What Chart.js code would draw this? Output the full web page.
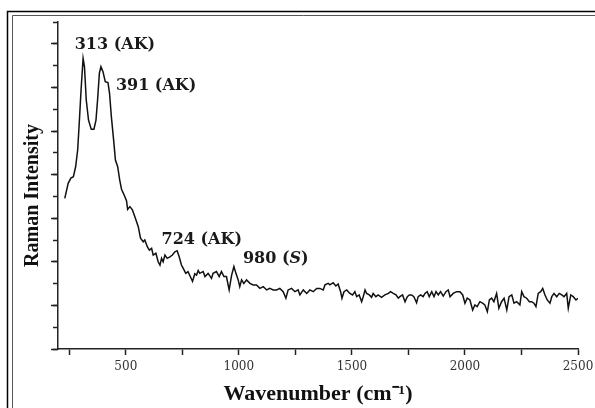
<!DOCTYPE html>
<html><head><meta charset="utf-8">
<script src="https://cdn.jsdelivr.net/npm/chart.js@4.4.0/dist/chart.umd.min.js"></script>
<style>html,body{margin:0;padding:0;background:#fff;} canvas{display:block;}</style>
</head><body>
<canvas id="c" width="595" height="408"></canvas>
<script>
// Wavenumber (cm^-1)
const wavenumber = [230,245,257,268,278,287,294,302,311,317,325,335,347,359,368,375,383,390,399,409,421,428,436,446,454,464,473,481,493,503,508,518,529,540,555,565,577,584,595,604,614,621,633,643,651,658,665,673,683,695,706,717,727,736,746,754,765,775,786,795,805,813,820,827,842,850,864,879,886,901,913,923,934,945,957,968,978,987,997,1004,1012,1022,1034,1049,1063,1078,1093,1108,1123,1137,1152,1167,1181,1196,1208,1218,1233,1248,1262,1270,1285,1300,1314,1329,1344,1358,1373,1381,1395,1403,1417,1429,1439,1450,1456,1465,1477,1491,1503,1513,1521,1532,1543,1550,1558,1565,1577,1587,1594,1606,1616,1631,1646,1661,1671,1683,1695,1705,1712,1724,1735,1745,1754,1764,1774,1786,1793,1804,1815,1823,1833,1842,1853,1863,1872,1882,1892,1904,1916,1926,1934,1948,1963,1978,1990,2000,2010,2022,2034,2044,2054,2066,2078,2088,2099,2108,2118,2128,2140,2150,2162,2173,2185,2195,2207,2217,2229,2243,2251,2261,2273,2285,2295,2305,2314,2324,2335,2344,2354,2364,2376,2384,2394,2406,2417,2428,2438,2450,2457,2468,2479,2491,2500];
// Raman intensity (arbitrary units)
const intensity = [6.91,7.60,7.84,7.90,8.36,9.13,10.37,11.88,13.33,12.95,11.42,10.50,10.08,10.08,10.50,11.42,12.65,12.95,12.72,12.26,12.22,11.73,10.66,9.59,8.67,8.36,7.75,7.33,7.05,6.80,6.40,6.53,6.38,6.07,5.61,5.08,4.92,5.00,4.69,4.54,4.62,4.31,4.39,4.00,3.85,4.16,4.00,4.31,4.16,4.23,4.31,4.46,4.51,4.23,3.85,3.70,3.47,3.55,3.30,3.10,3.45,3.39,3.60,3.47,3.55,3.32,3.47,3.24,3.47,3.55,3.32,3.55,3.32,3.32,2.71,3.39,3.78,3.47,3.17,2.86,3.17,3.01,3.17,3.01,2.94,2.94,2.78,2.86,2.71,2.78,2.71,2.71,2.78,2.63,2.33,2.71,2.78,2.63,2.71,2.48,2.71,2.55,2.71,2.63,2.78,2.78,2.71,2.94,3.01,2.94,3.04,2.89,2.98,2.63,2.33,2.63,2.71,2.55,2.48,2.63,2.40,2.48,2.17,2.40,2.71,2.55,2.48,2.37,2.55,2.40,2.48,2.37,2.48,2.55,2.63,2.55,2.48,2.33,2.40,2.48,2.17,2.40,2.48,2.48,2.40,2.12,2.40,2.48,2.40,2.55,2.63,2.40,2.63,2.40,2.63,2.48,2.63,2.43,2.63,2.71,2.40,2.55,2.63,2.63,2.48,2.10,2.33,2.25,1.79,2.02,1.94,2.17,2.10,2.02,1.71,2.25,2.33,2.17,2.55,1.87,2.17,2.33,1.79,2.40,2.48,2.10,2.17,2.02,2.63,2.40,2.33,2.17,2.17,2.10,1.94,2.55,2.63,2.78,2.48,2.25,2.10,2.40,2.55,2.40,2.55,2.48,2.40,2.55,1.87,2.48,2.40,2.25,2.33];
// X-axis tick positions (labelled every 500)
const xTickValues = [250,500,750,1000,1250,1500,1750,2000,2250,2500];
// Peak annotations
const peakLabels = ["313 (AK)", "391 (AK)", "724 (AK)", "980 (S)"];
const peakLabelX = [274, 456, 658, 1018];
const peakLabelY = [13.94, 12.06, 5.0, 4.13];
const peakItalic = [false, false, false, true];

const framePlugin = {
  id: 'frame',
  beforeDraw(chart) {
    const ctx = chart.ctx, W = chart.width, H = chart.height;
    ctx.save();
    ctx.fillStyle = '#fff'; ctx.fillRect(0, 0, W, H);
    ctx.strokeStyle = '#000'; ctx.lineWidth = 1.5;
    ctx.beginPath(); ctx.moveTo(7.5, H); ctx.lineTo(7.5, 11.5); ctx.lineTo(W, 11.5); ctx.stroke();
    ctx.strokeStyle = '#555'; ctx.lineWidth = 1;
    ctx.beginPath(); ctx.moveTo(12.5, H); ctx.lineTo(12.5, 15.5); ctx.lineTo(W, 15.5); ctx.stroke();
    ctx.restore();
  }
};

const peakLabelPlugin = {
  id: 'peakLabels',
  afterDatasetsDraw(chart) {
    const ctx = chart.ctx, x = chart.scales.x, y = chart.scales.y;
    ctx.save();
    ctx.fillStyle = '#1a1a1a'; ctx.textBaseline = 'middle'; ctx.textAlign = 'left';
    peakLabels.forEach((t, i) => {
      let px = x.getPixelForValue(peakLabelX[i]);
      const py = y.getPixelForValue(peakLabelY[i]);
      const m = t.match(/^(.*\()([^)]*)(\).*)$/);
      const parts = m ? [[m[1], false], [m[2], peakItalic[i]], [m[3], false]] : [[t, false]];
      parts.forEach(([s, it]) => {
        ctx.font = (it ? 'italic ' : '') + 'bold 16px "DejaVu Serif"';
        ctx.fillText(s, px, py);
        px += ctx.measureText(s).width;
      });
    });
    ctx.restore();
  }
};

new Chart(document.getElementById('c'), {
  type: 'line',
  data: {
    datasets: [{
      data: wavenumber.map((w, i) => ({ x: w, y: intensity[i] })),
      borderColor: '#111', borderWidth: 1.5, pointRadius: 0, fill: false, tension: 0,
      xAxisID: 'x', yAxisID: 'y'
    }]
  },
  options: {
    responsive: false, animation: false, devicePixelRatio: 1,
    layout: { padding: { left: 0, top: 22, right: 17, bottom: 0 } },
    plugins: { legend: { display: false }, tooltip: { enabled: false } },
    scales: {
      x: {
        type: 'linear', min: 200, max: 2500, position: 'bottom',
        afterFit: s => { s.height = 59; s.paddingLeft = 0; s.paddingRight = 0; },
        afterBuildTicks: s => { s.ticks = xTickValues.map(v => ({ value: v })); },
        ticks: { autoSkip: false, maxRotation: 0, padding: 5, color: '#333',
          font: { family: 'DejaVu Serif', size: 12 },
          callback: v => (v % 500 === 0 ? String(v) : '') },
        grid: { drawOnChartArea: false, tickLength: 6, tickWidth: 1.5, tickColor: '#222' },
        border: { color: '#222', width: 1.5 },
        title: { display: true, text: 'Wavenumber (cm⁻¹)', color: '#111',
          font: { family: 'Liberation Serif', size: 22, weight: 'bold' }, padding: { top: 0, bottom: 0 } }
      },
      y: {
        type: 'linear', min: 0, max: 15, position: 'left', weight: 1,
        afterFit: s => { s.width = 58; },
        ticks: { stepSize: 2, display: false },
        grid: { drawOnChartArea: false, tickLength: 7, tickWidth: 1.5,
          tickColor: c => (c.tick && c.tick.value === 15) ? 'rgba(0,0,0,0)' : '#222' },
        border: { color: '#222', width: 1.5 },
        title: { display: true, text: 'Raman Intensity    ', color: '#111',
          font: { family: 'Liberation Serif', size: 20, weight: 'bold' }, padding: { top: 21, bottom: 0 } }
      },
      y2: {
        type: 'linear', min: 0, max: 15, position: 'left', weight: 0,
        afterFit: s => { s.width = 0; },
        ticks: { stepSize: 1, display: false },
        grid: { drawOnChartArea: false, tickLength: 5, tickWidth: 1.5, tickColor: '#222' },
        border: { display: false }
      }
    }
  },
  plugins: [framePlugin, peakLabelPlugin]
});
</script>
</body></html>
